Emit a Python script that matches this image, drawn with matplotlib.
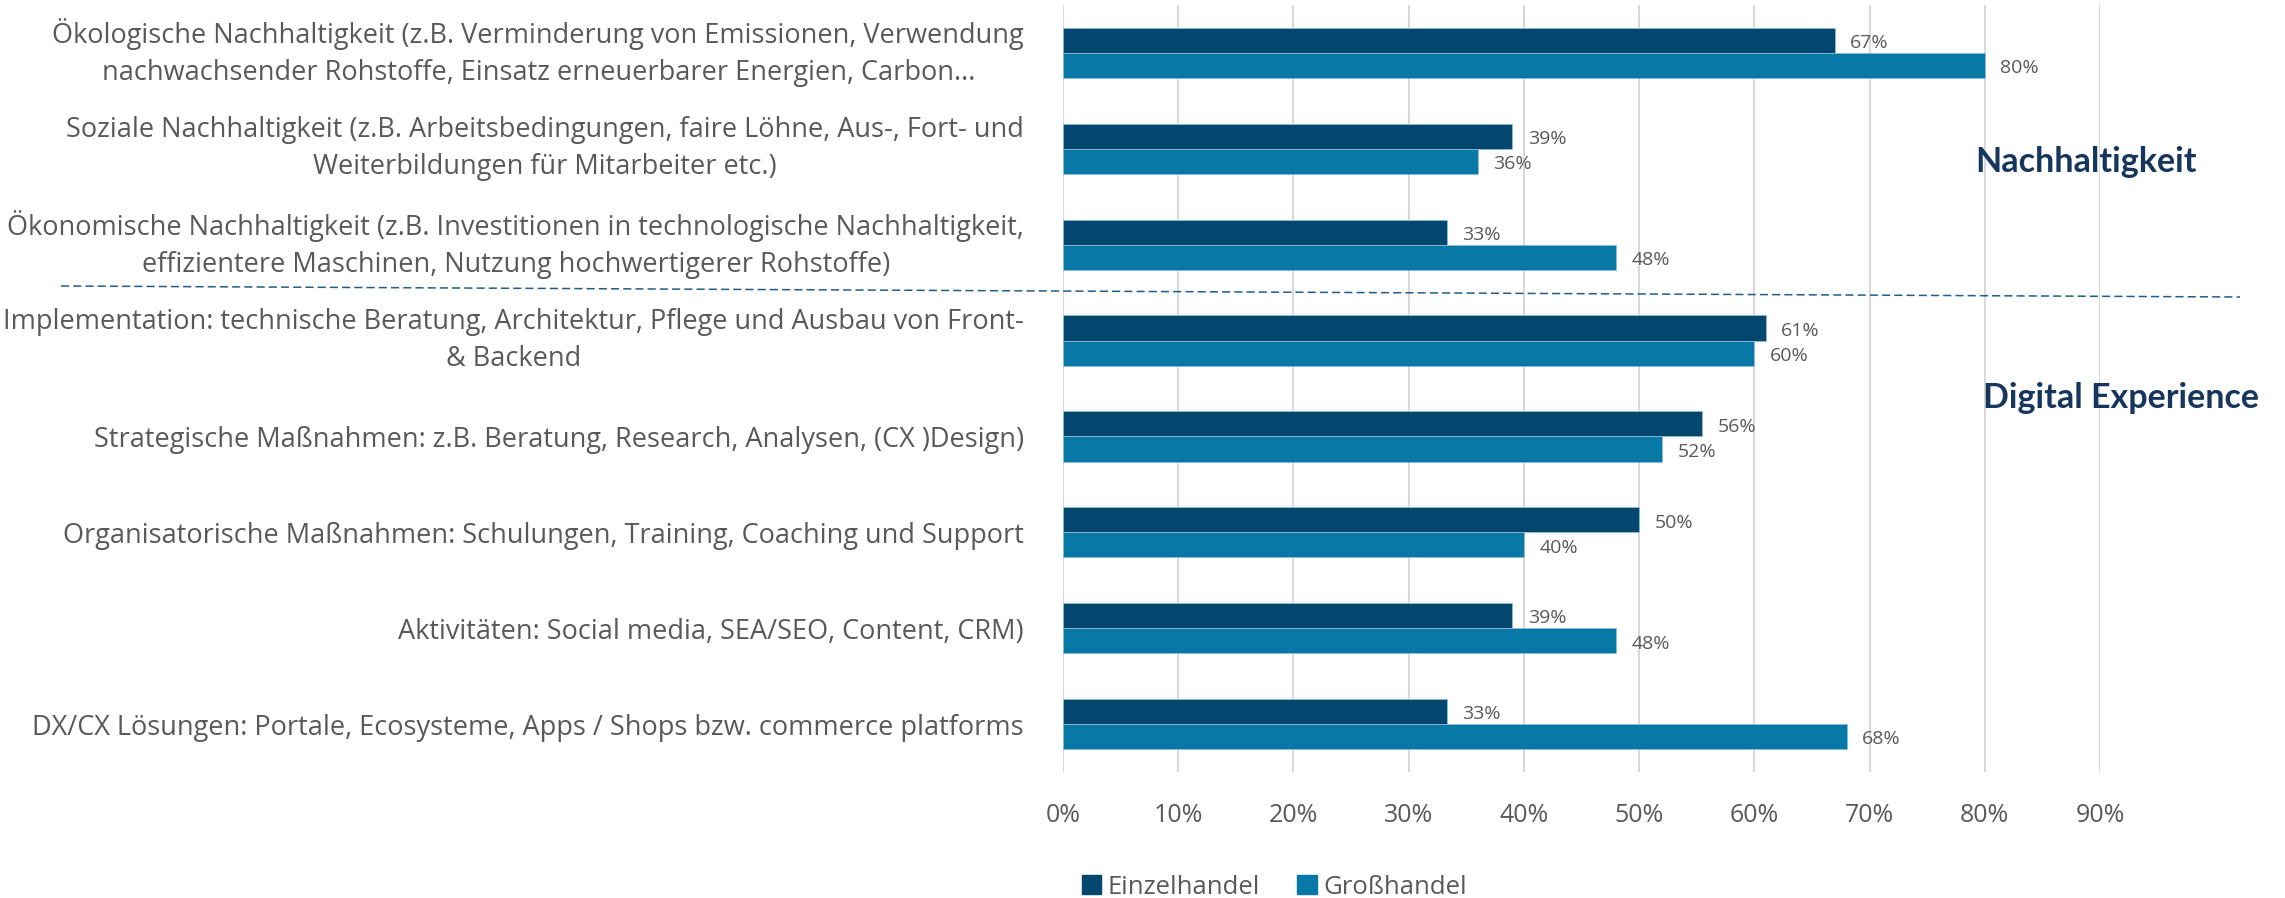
import matplotlib
matplotlib.use("Agg")
import matplotlib.pyplot as plt
from matplotlib.lines import Line2D
import numpy as np

categories = [
    "Ökologische Nachhaltigkeit (z.B. Verminderung von Emissionen, Verwendung\nnachwachsender Rohstoffe, Einsatz erneuerbarer Energien, Carbon...",
    "Soziale Nachhaltigkeit (z.B. Arbeitsbedingungen, faire Löhne, Aus-, Fort- und\nWeiterbildungen für Mitarbeiter etc.)",
    "Ökonomische Nachhaltigkeit (z.B. Investitionen in technologische Nachhaltigkeit,\neffizientere Maschinen, Nutzung hochwertigerer Rohstoffe)",
    "Implementation: technische Beratung, Architektur, Pflege und Ausbau von Front-\n& Backend",
    "Strategische Maßnahmen: z.B. Beratung, Research, Analysen, (CX )Design)",
    "Organisatorische Maßnahmen: Schulungen, Training, Coaching und Support",
    "Aktivitäten: Social media, SEA/SEO, Content, CRM)",
    "DX/CX Lösungen: Portale, Ecosysteme, Apps / Shops bzw. commerce platforms",
]
einzelhandel = [0.67, 0.39, 0.333, 0.61, 0.555, 0.50, 0.39, 0.333]
grosshandel = [0.80, 0.36, 0.48, 0.60, 0.52, 0.40, 0.48, 0.68]
series_names = ["Einzelhandel", "Großhandel"]
xticks = [0.0, 0.1, 0.2, 0.3, 0.4, 0.5, 0.6, 0.7, 0.8, 0.9]
xtick_labels = ["0%", "10%", "20%", "30%", "40%", "50%", "60%", "70%", "80%", "90%"]
group_labels = ["Nachhaltigkeit", "Digital Experience"]

C_DARK = "#03476F"
C_LIGHT = "#0879A6"
TXT = "#595959"
NAVY = "#17365D"
FONT = "Open Sans"

W, H = 2285, 898
fig = plt.figure(figsize=(W / 100, H / 100), dpi=100)
fig.patch.set_facecolor("white")

ax = fig.add_axes([1063 / W, 1 - 772 / H, (2100 - 1063) / W, (772 - 5) / H])
n = len(categories)
y = np.arange(n)
bh = 0.262
b1 = ax.barh(y - bh / 2, einzelhandel, height=bh, color=C_DARK,
             edgecolor="#8FBCD6", linewidth=0.6, zorder=3)
b2 = ax.barh(y + bh / 2, grosshandel, height=bh, color=C_LIGHT,
             edgecolor="#8FBCD6", linewidth=0.6, zorder=3)

for bars, vals in ((b1, einzelhandel), (b2, grosshandel)):
    for rect, v in zip(bars, vals):
        ax.annotate(f"{v * 100:.0f}%", (rect.get_width(), rect.get_y() + rect.get_height() / 2),
                    xytext=(11, -2), textcoords="offset points", ha="left", va="center",
                    fontsize=14, color=TXT, family=FONT)

ax.set_xlim(0, 0.9)
ax.set_ylim(n - 0.5, -0.5)
ax.set_xticks(xticks)
ax.set_xticklabels(xtick_labels, fontsize=18, color=TXT, family=FONT)
ax.set_yticks(y)
ax.set_yticklabels(categories, fontsize=19.5, color=TXT, family=FONT)
ax.tick_params(axis="x", length=0, pad=22)
ax.tick_params(axis="y", length=0, pad=28)
for lab in ax.get_yticklabels():
    lab.set_multialignment("center")
    lab.set_linespacing(1.43)
    if "\n" in lab.get_text():
        lab.set_verticalalignment("center")
for s in ax.spines.values():
    s.set_visible(False)
ax.grid(axis="x", color="#D9D9D9", linewidth=1.5, zorder=0)
ax.set_axisbelow(True)

# dashed separator
fig.add_artist(Line2D([61 / W, 2240 / W], [1 - 286 / H, 1 - 297 / H],
                      transform=fig.transFigure, color="#235C87", linewidth=1.1,
                      dashes=(5.3, 2.7)))

fig.text(1975 / W, 1 - 172 / H, group_labels[0], fontsize=24.5, fontweight="bold",
         color=NAVY, family="Lato", ha="left", va="baseline")
fig.text(1983 / W, 1 - 408 / H, group_labels[1], fontsize=24.5, fontweight="bold",
         color=NAVY, family="Lato", ha="left", va="baseline")

handles = [plt.Rectangle((0, 0), 1, 1, color=C_DARK), plt.Rectangle((0, 0), 1, 1, color=C_LIGHT)]
fig.legend(handles, series_names, loc="center left", bbox_to_anchor=(1082 / W, 1 - 887 / H),
           ncol=2, frameon=False, prop={"family": FONT, "size": 18.5},
           labelcolor=TXT, handlelength=0.75, handleheight=0.75, handletextpad=0.25,
           columnspacing=1.45, borderpad=0, borderaxespad=0)

fig.savefig("out.png", dpi=100)
